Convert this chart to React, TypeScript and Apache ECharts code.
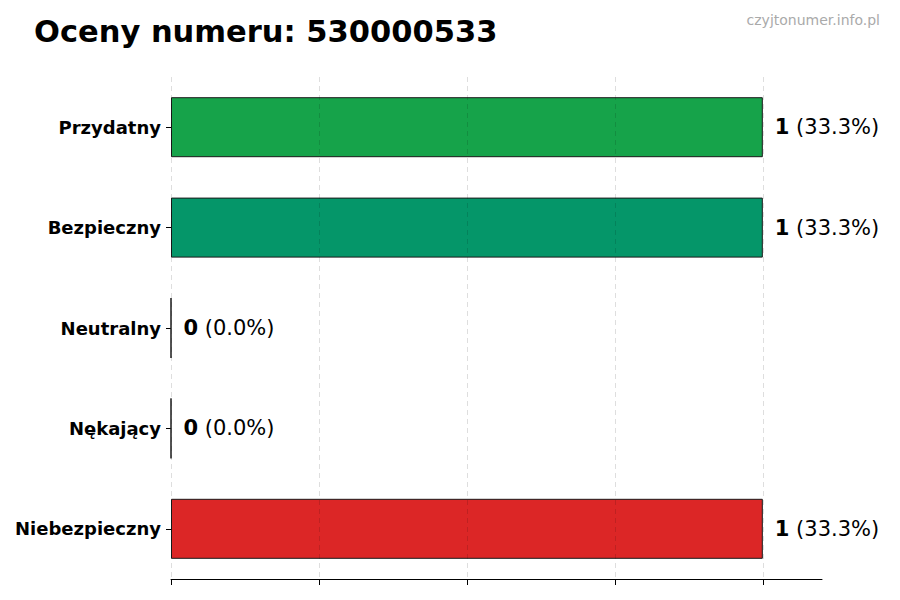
import { useEffect, useRef } from "react";
import * as echarts from "echarts";

const categories = ["Przydatny", "Bezpieczny", "Neutralny", "Nękający", "Niebezpieczny"];
const counts = [1, 1, 0, 0, 1];
const percents = ["33.3%", "33.3%", "0.0%", "0.0%", "33.3%"];
const barColors = ["#16a34a", "#059669", "#6b7280", "#ea580c", "#dc2626"];
const xTicks = [0, 0.25, 0.5, 0.75, 1];

const FONT = "DejaVu Sans";

export default function App() {
  const chartRef = useRef<HTMLDivElement>(null);

  useEffect(() => {
    if (!chartRef.current) return;
    document.body.style.margin = "0";

    const chart = echarts.init(chartRef.current, null, { renderer: "svg" });

    chart.setOption({
      animation: false,
      textStyle: { fontFamily: FONT },
      title: [
        {
          text: "Oceny numeru: 530000533",
          left: 29,
          top: 11,
          textStyle: { fontFamily: FONT, fontSize: 30.5, fontWeight: "bold", color: "#000" },
        },
        {
          text: "czyjtonumer.info.pl",
          right: 15,
          top: 8,
          textStyle: { fontFamily: FONT, fontSize: 14, fontWeight: "normal", color: "#aaaaaa" },
        },
      ],
      grid: { left: 171, top: 77, width: 651, height: 502 },
      xAxis: {
        type: "value",
        min: 0,
        max: 1.1,
        interval: 0.25,
        axisLine: { show: true, lineStyle: { color: "#000", width: 1 } },
        axisTick: { show: true, customValues: xTicks, length: 6, lineStyle: { color: "#000" } },
        axisLabel: { show: false },
        splitLine: { show: false },
      },
      yAxis: {
        type: "category",
        data: categories,
        inverse: true,
        axisLine: { show: false },
        axisTick: { show: true, alignWithLabel: true, length: 5, lineStyle: { color: "#000" } },
        axisLabel: {
          margin: 10,
          fontFamily: FONT,
          fontSize: 18,
          fontWeight: "bold",
          color: "#000",
        },
        splitLine: { show: false },
      },
      series: [
        {
          type: "bar",
          barWidth: 60,
          data: counts.map((v, i) => ({
            value: v,
            itemStyle: { color: barColors[i] },
          })),
          itemStyle: { borderColor: "#1a1a1a", borderWidth: 1 },
          label: {
            show: true,
            position: "right",
            distance: 12,
            formatter: (p: { dataIndex: number }) =>
              `{b|${counts[p.dataIndex]}}{n| (${percents[p.dataIndex]})}`,
            rich: {
              b: { fontFamily: FONT, fontSize: 21, fontWeight: "bold", color: "#000" },
              n: { fontFamily: FONT, fontSize: 21, color: "#000" },
            },
          },
          markLine: {
            silent: true,
            symbol: "none",
            label: { show: false },
            lineStyle: { color: "rgba(0,0,0,0.13)", type: [5, 4], width: 1 },
            data: xTicks.map((v) => ({ xAxis: v })),
          },
        },
      ],
    });

    return () => {
      chart.dispose();
    };
  }, []);

  return <div ref={chartRef} style={{ width: "900px", height: "600px" }} />;
}
